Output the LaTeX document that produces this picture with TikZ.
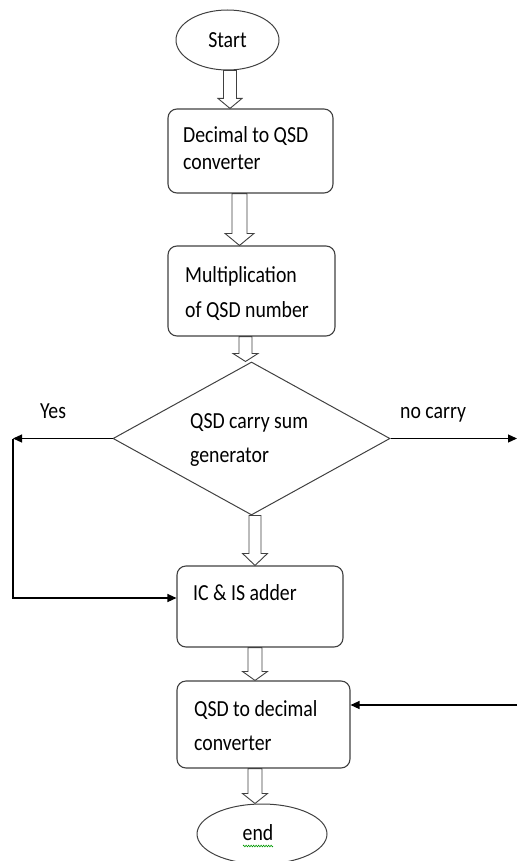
\documentclass[tikz,border=0pt]{standalone}
\usepackage{fontspec}
\setmainfont{Carlito}[FakeStretch=0.86]
\usetikzlibrary{shapes.geometric,arrows.meta,calc,decorations.pathmorphing}
\newcommand\fatarrow[6]{%
  \draw[fatarr] let \p1=#2, \p2=#3 in
    (#1pt-#4pt,\y1) -- (#1pt-#4pt,\y2+#6pt) -- (#1pt-#5pt,\y2+#6pt) -- (#1pt,\y2)
    -- (#1pt+#5pt,\y2+#6pt) -- (#1pt+#4pt,\y2+#6pt) -- (#1pt+#4pt,\y1) -- cycle;}
\begin{document}
\begin{tikzpicture}[x=1pt,y=-1pt,
  every node/.style={font=\fontsize{23}{27}\selectfont, text=black},
  oval/.style={ellipse, draw=black!75, line width=1pt, inner sep=0pt},
  procbox/.style={rectangle, rounded corners=9pt, draw=black!75, line width=1.1pt, inner sep=0pt},
  decbox/.style={diamond, draw=black!75, line width=1pt, inner sep=0pt},
  lbl/.style={anchor=base west, inner sep=0pt},
  fatarr/.style={draw=black!75, fill=white, line width=0.9pt, line join=miter},
  conn/.style={draw=black, line width=1.2pt, -{Triangle[length=9pt,width=8pt]}},
  plain/.style={draw=black, line width=1.2pt}]
\useasboundingbox (0,0) rectangle (517,861);

% shapes
\node[oval, minimum width=103pt, minimum height=60pt] (st) at (227.5,40) {Start};
\node[procbox, minimum width=165pt, minimum height=84pt] (b1) at (250.5,151) {};
\node[procbox, minimum width=167pt, minimum height=90pt] (b2) at (251.5,291) {};
\node[decbox, minimum width=277pt, minimum height=153pt, shape aspect=1.81] (d) at (251.5,438.5) {};
\node[procbox, minimum width=166pt, minimum height=81pt] (ic) at (260,606.5) {};
\node[procbox, minimum width=173pt, minimum height=87pt] (qd) at (263.5,724.5) {};
\node[oval, minimum width=130pt, minimum height=60pt] (en) at (262,834) {};

% texts
\node[lbl] (t1a) at (183,143) {Decimal to QSD};
\node[lbl] (t1b) at (183,170) {converter};
\node[lbl] (t2a) at (185,282) {Multiplication};
\node[lbl] (t2b) at (185,317) {of QSD number};
\node[lbl] (tda) at (190,428) {QSD carry sum};
\node[lbl] (tdb) at (190,462) {generator};
\node[lbl] (tic) at (193,600) {IC \& IS adder};
\node[lbl] (tqa) at (194,716) {QSD to decimal};
\node[lbl] (tqb) at (194,750) {converter};
\node[anchor=base, inner sep=0pt] (ten) at (258,840) {end};
\draw[green!60!black, line width=0.6pt, decorate, decoration={zigzag, segment length=2.5pt, amplitude=0.8pt}] (243,846) -- (273,846);

\node[lbl] (yes) at (40,418) {Yes};
\node[lbl] (noc) at (400,418) {no carry};

% hollow block arrows
\fatarrow{230}{(st.south)}{(b1.north)}{6.5}{12}{10}
\fatarrow{239.5}{(b1.south)}{(b2.north)}{7.5}{14.5}{12}
\fatarrow{245.5}{(b2.south)}{(d.north)}{6.5}{12.5}{8}
\fatarrow{255}{(d.south)}{(ic.north)}{6}{12.5}{12}
\fatarrow{255}{(ic.south)}{(qd.north)}{7}{12.5}{9}
\fatarrow{255}{(qd.south)}{(en.north)}{7}{12.5}{10}

% connectors
\coordinate (yc) at (13,438.5);
\coordinate (yd) at (13,598);
\coordinate (nc) at (517,438.5);
\coordinate (rin) at (517,705);
\draw[conn] (d.west) -- (yc);
\draw[conn] (yc) -- (yd) -- (yd -| ic.west);
\draw[conn] (d.east) -- (nc);
\draw[conn] (rin) -- (rin -| qd.east);
\end{tikzpicture}
\end{document}
